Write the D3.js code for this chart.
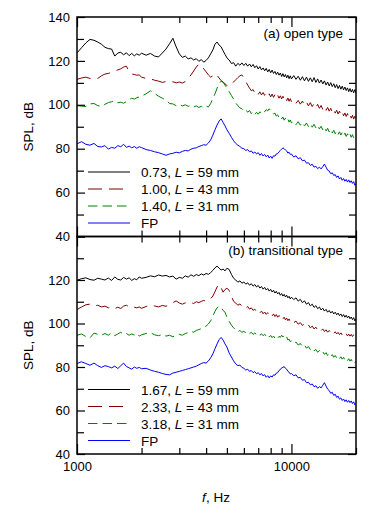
<!DOCTYPE html>
<html><head><meta charset="utf-8">
<script src="https://cdn.jsdelivr.net/npm/d3@7"></script>
<style>
body{margin:0;background:#fff}
svg{display:block}
text{font-family:"Liberation Sans",Arial,sans-serif;fill:#000}
</style>
</head><body>
<svg id="c" width="376" height="514"></svg>
<script>
// ---- data ----
const freqs = [1000,1050,1100,1150,1200,1250,1300,1350,1400,1450,1500,1550,1600,1650,1700,1750,1800,1850,1900,1950,2000,
2100,2200,2300,2400,2500,2600,2700,2800,2900,3000,3100,3200,3300,3400,3500,3600,3700,3800,3900,4000,4100,4200,4300,4400,4500,4600,4700,4800,4900,5000,
5125,5250,5375,5500,5625,5750,5875,6000,6125,6250,6375,6500,6625,6750,6875,7000,7125,7250,7375,7500,7625,7750,7875,8000,8125,8250,8375,8500,8625,8750,8875,9000,9125,9250,9375,9500,9625,9750,9875,10000,
10250,10500,10750,11000,11250,11500,11750,12000,12250,12500,12750,13000,13250,13500,13750,14000,14250,14500,14750,15000,15250,15500,15750,16000,16250,16500,16750,17000,17250,17500,17750,18000,18250,18500,18750,19000,19250,19500,19750,20000];

// (a) open type
const open073 = [123.6,126.0,128.2,129.8,129.4,128.6,127.6,126.2,125.6,125.4,122.2,123.6,123.9,122.8,123.7,122.4,123.4,122.3,123.2,122.6,123.5,
122.6,123.4,122.2,121.8,123.6,125.4,127.8,130.3,126.4,123.2,121.6,122.2,120.9,121.4,120.4,121.0,119.8,120.6,119.4,120.2,121.4,123.2,125.0,127.6,128.6,127.2,126.4,124.6,123.0,121.4,
120.4,118.8,119.2,117.6,118.9,118.0,119.1,117.9,118.9,117.6,118.6,117.3,118.4,116.9,117.8,116.3,117.4,115.9,116.8,115.5,116.6,115.0,116.1,114.6,115.8,114.3,115.2,113.8,114.9,113.5,114.5,112.9,114.2,112.7,113.8,112.3,113.5,111.9,113.2,111.8,
113.3,111.6,113.0,111.2,112.8,110.9,112.6,110.7,112.3,110.5,112.4,110.2,111.8,109.9,111.3,109.5,110.9,109.0,110.4,108.6,110.1,108.3,109.6,107.8,109.2,107.4,108.8,107.1,108.5,106.8,108.1,106.5,107.7,106.0,107.4,105.8,107.0,105.5,106.9,105.3];
const open100 = [111.6,112.2,112.6,112.0,112.3,112.0,113.2,114.0,114.3,114.8,115.3,115.9,116.4,117.2,117.6,115.2,114.0,113.8,113.5,113.6,112.6,
112.0,111.8,111.2,110.8,110.2,110.6,110.2,110.5,110.0,110.4,109.9,110.6,112.0,113.6,115.4,117.2,118.6,117.8,116.4,115.0,113.6,112.6,113.2,112.4,113.4,112.2,111.0,110.4,109.6,108.8,
108.4,109.6,110.4,111.4,112.4,113.2,113.6,112.2,110.6,109.0,107.6,106.4,106.9,105.4,106.2,104.8,105.9,104.5,105.6,104.3,105.4,104.0,105.0,103.6,104.9,103.4,104.6,103.1,104.4,103.0,104.1,102.7,103.9,102.3,103.4,101.9,103.1,101.6,102.8,101.4,
102.4,100.7,102.0,100.3,101.7,99.9,101.3,99.5,101.0,99.2,100.6,98.8,100.2,98.4,99.7,97.9,99.3,97.5,98.8,97.1,98.4,96.6,97.9,96.2,97.5,95.8,97.1,95.4,96.7,95.0,96.3,94.7,96.0,94.3,95.6,93.9,95.2,93.5,94.8,93.2];
const open140 = [99.6,99.4,99.2,100.4,100.6,99.6,99.3,100.2,101.0,101.4,101.8,100.9,101.2,100.7,101.5,102.4,103.0,102.6,103.2,103.6,104.0,
105.0,106.4,105.2,103.9,103.0,102.1,100.6,100.4,99.6,100.2,99.5,100.0,99.3,99.8,99.0,99.5,98.8,99.3,98.7,99.4,99.0,100.6,102.8,105.0,107.6,109.6,110.8,110.2,109.0,107.4,
106.0,104.2,102.6,100.8,99.6,98.6,98.2,97.3,97.9,96.6,97.4,96.0,96.9,95.6,96.6,95.7,96.8,96.2,97.4,96.8,97.8,97.2,98.2,97.4,97.0,95.8,96.2,94.9,95.4,94.2,94.9,93.6,94.4,93.0,93.9,92.6,93.5,92.1,93.1,91.8,
92.5,91.0,92.3,90.7,92.0,90.4,91.7,90.1,91.4,89.8,91.1,89.5,90.7,89.0,90.2,88.6,89.8,88.1,89.3,87.6,88.8,87.2,88.4,86.8,88.0,86.5,87.7,86.2,87.4,85.9,87.1,85.6,86.8,85.4,86.6,85.2,86.4,85.0,86.2,85.3];
const openFP = [82.2,83.2,82.0,81.6,82.4,81.0,80.8,81.4,79.8,80.6,80.2,81.4,80.9,82.0,80.6,81.2,80.4,81.0,80.2,80.9,80.5,
79.6,79.2,78.6,78.2,77.6,77.0,77.6,77.9,78.4,78.1,78.8,79.2,79.0,79.8,80.2,80.4,81.0,81.4,81.8,81.6,82.6,84.0,86.2,88.6,90.8,92.6,93.6,92.0,90.4,88.6,
87.0,85.2,83.6,82.4,81.6,81.0,80.2,80.0,79.2,79.6,78.6,79.0,77.9,78.5,77.6,78.2,77.0,77.8,76.7,77.4,76.3,77.1,75.8,76.6,75.6,76.8,76.6,77.6,77.8,78.6,79.2,79.8,80.4,80.0,79.4,79.0,78.0,78.4,77.4,77.6,
76.2,76.8,75.4,75.9,74.5,74.8,73.4,73.6,72.4,72.9,71.6,72.0,70.9,71.6,70.8,71.8,73.0,71.6,70.2,69.8,68.6,69.0,67.8,68.2,66.9,67.6,66.2,66.9,65.6,66.4,65.2,66.0,64.8,65.8,64.6,65.4,64.2,65.0,63.4,64.0];

// (b) transitional type
const trans167 = [119.9,120.6,121.0,120.2,119.9,120.8,120.4,120.0,120.9,119.8,121.4,120.3,120.0,121.2,120.4,121.0,119.8,120.6,120.1,121.4,120.8,
121.2,121.9,121.5,122.3,121.8,122.1,121.4,121.8,120.4,121.2,120.8,121.9,121.3,122.4,121.7,122.5,122.0,122.8,122.3,123.0,122.6,123.4,124.4,125.6,126.4,125.4,124.6,125.0,124.2,125.4,
124.8,122.6,120.8,120.0,119.0,119.6,118.5,119.1,118.1,118.7,117.6,118.3,117.2,117.9,116.8,117.5,116.3,117.0,115.8,116.6,115.4,116.1,114.9,115.7,114.5,115.3,114.0,114.8,113.6,114.3,113.0,113.8,112.6,113.4,112.2,113.0,111.8,112.5,111.3,112.1,
111.0,111.8,110.3,111.1,109.6,110.4,108.9,109.6,108.1,108.9,107.4,108.2,106.8,107.6,106.2,107.0,105.7,106.5,105.2,106.0,104.8,105.6,104.4,105.2,104.0,104.8,103.6,104.4,103.2,104.1,102.9,103.8,102.6,103.4,102.2,103.0,101.8,102.7,101.2,102.2];
const trans233 = [106.4,107.6,108.6,108.9,108.0,108.4,107.6,108.0,107.2,107.6,106.8,107.5,106.9,108.0,108.4,107.6,108.0,107.5,107.2,107.6,107.0,
107.8,108.6,108.1,107.6,108.3,107.9,108.8,109.6,110.4,109.4,108.9,109.5,109.0,109.6,109.2,110.0,109.6,110.2,110.6,110.2,111.0,111.4,112.6,114.6,116.8,118.0,116.4,114.4,115.6,116.2,
115.2,112.4,110.2,109.4,108.4,109.0,107.9,108.3,107.2,107.8,106.6,107.2,106.0,106.6,105.4,106.2,104.9,105.7,104.5,105.3,104.2,105.0,103.8,104.6,103.5,104.4,103.2,104.1,102.9,103.7,102.5,103.3,102.1,102.9,101.7,102.5,101.3,102.1,100.8,101.6,
100.4,101.1,99.7,100.4,99.1,99.8,98.5,99.3,98.0,98.8,97.5,98.3,97.1,97.9,96.7,97.5,96.3,97.1,96.0,96.8,95.7,96.5,95.4,96.2,95.2,95.9,94.9,95.7,94.7,95.5,94.5,95.3,94.3,95.1,94.2,95.0,94.0,94.8,93.8,94.5];
const trans318 = [94.6,95.2,94.0,93.4,95.6,95.0,94.6,95.4,94.6,95.8,94.4,95.2,96.0,94.8,95.4,94.6,95.2,94.7,95.4,94.2,94.8,
95.4,95.8,94.8,94.4,95.0,94.2,94.6,93.9,94.6,95.0,94.6,95.4,95.8,96.4,96.0,96.8,97.2,97.6,98.2,98.8,99.8,101.2,103.4,105.6,107.2,107.9,107.4,106.0,105.2,103.0,
101.0,99.2,98.0,97.0,96.2,96.8,95.9,96.5,95.6,96.2,95.3,96.0,95.0,95.7,94.8,95.5,94.6,95.3,94.4,95.1,94.1,94.8,93.8,94.5,93.5,94.2,93.3,94.0,93.2,94.1,93.6,94.6,93.8,94.6,93.4,93.8,92.4,92.8,91.6,92.0,
90.8,91.5,90.1,90.8,89.4,90.1,88.7,89.4,88.0,88.8,87.4,88.1,86.8,87.6,86.3,87.0,85.8,86.6,85.3,86.1,84.9,85.7,84.5,85.3,84.2,85.0,83.9,84.7,83.6,84.4,83.3,84.1,83.0,83.8,82.7,83.5,82.4,83.2,82.1,82.8];
const transFP = [81.6,82.4,81.6,80.8,81.8,80.6,79.8,80.6,80.2,79.6,80.4,79.3,80.6,81.8,80.2,79.6,79.0,80.0,79.4,79.8,79.2,
79.4,78.6,78.0,77.6,77.0,76.6,76.4,77.2,77.6,78.0,78.4,78.8,79.2,79.6,80.0,80.4,81.0,81.6,82.0,81.8,82.8,84.2,86.0,88.4,90.6,92.6,93.6,92.4,90.6,89.2,
86.4,84.6,82.8,81.4,80.6,80.9,79.8,79.4,78.6,79.0,78.0,78.4,77.4,77.9,76.9,77.4,76.4,77.0,75.9,76.5,75.3,76.0,75.0,75.9,75.4,76.4,76.2,77.2,77.4,78.4,78.8,79.6,79.8,80.2,79.4,79.0,78.0,77.6,76.8,77.0,
76.0,76.4,75.0,75.2,73.9,74.2,72.8,73.0,71.8,72.2,70.9,71.4,70.2,71.0,70.4,71.6,72.8,71.2,69.8,69.2,67.9,68.4,66.9,67.5,66.0,66.6,65.2,65.8,64.6,65.3,64.1,64.9,63.8,64.6,63.6,64.4,63.2,64.0,62.6,63.2];

const xTickLabels = [1000, 10000];
const xMinorTicks = [2000,3000,4000,5000,6000,7000,8000,9000,20000];
const yLabelTicks = [40,60,80,100,120,140];
const yMinorTicks = [50,70,90,110,130];
const panelA = {label:"(a) open type", series:[open073,open100,open140,openFP], legend:["0.73","1.00","1.40","FP"], L:[59,43,31,null]};
const panelB = {label:"(b) transitional type", series:[trans167,trans233,trans318,transFP], legend:["1.67","2.33","3.18","FP"], L:[59,43,31,null]};

// ---- drawing ----
const colors = ["#000000","#800000","#008000","#0000ff"];
const dashes = [null,"14,7","9.5,5",null];
const svg = d3.select("#c");
const X0 = 77, X1 = 356;
const x = d3.scaleLog().domain([1000,20000]).range([X0,X1]);
const panels = [
  {p:panelA, y:d3.scaleLinear().domain([40,140]).range([236.5,17]), legendY:172, labelY:38, showTop:true},
  {p:panelB, y:d3.scaleLinear().domain([40,140]).range([454,236.5]), legendY:389.5, labelY:255, showTop:false}
];

panels.forEach((P,pi)=>{
  const y = P.y;
  const [yb, yt] = y.range();
  const g = svg.append("g");
  const cid = "clip"+pi;
  svg.append("clipPath").attr("id",cid).append("rect")
    .attr("x",X0).attr("y",yt).attr("width",X1-X0).attr("height",yb-yt);

  // curves
  const line = d3.line().x(d=>x(d[0])).y(d=>y(d[1]));
  P.p.series.forEach((vals,si)=>{
    const data = freqs.map((f,i)=>[f,vals[i]]).filter(d=>d[1]!=null);
    const path = g.append("path").datum(data)
      .attr("clip-path",`url(#${cid})`)
      .attr("fill","none").attr("stroke",colors[si]).attr("stroke-width",1)
      .attr("d",line);
    if(dashes[si]) path.attr("stroke-dasharray",dashes[si]);
  });

  // y axes (inward ticks)
  const fmt = d=>String(d);
  const labTicks = pi===1 ? yLabelTicks.filter(v=>v!==140) : yLabelTicks;
  const left = g.append("g").attr("transform",`translate(${X0},0)`)
    .call(d3.axisLeft(y).tickValues(yLabelTicks).tickSize(-8).tickPadding(7).tickFormat(d=>labTicks.includes(d)?fmt(d):""));
  g.append("g").attr("transform",`translate(${X0},0)`)
    .call(d3.axisLeft(y).tickValues(yMinorTicks).tickSize(-7).tickFormat(""));
  g.append("g").attr("transform",`translate(${X1},0)`)
    .call(d3.axisRight(y).tickValues(yLabelTicks).tickSize(-8).tickFormat(""));
  g.append("g").attr("transform",`translate(${X1},0)`)
    .call(d3.axisRight(y).tickValues(yMinorTicks).tickSize(-7).tickFormat(""));

  // x ticks top/bottom (inward)
  const bottom = g.append("g").attr("transform",`translate(0,${yb})`);
  bottom.call(d3.axisBottom(x).tickValues(xMinorTicks).tickSize(-6).tickFormat(""));
  g.append("g").attr("transform",`translate(0,${yb})`)
    .call(d3.axisBottom(x).tickValues(xTickLabels).tickSize(-10).tickPadding(8)
      .tickFormat(d=> pi===1 ? String(d) : ""));
  g.append("g").attr("transform",`translate(0,${yt})`)
    .call(d3.axisTop(x).tickValues(xMinorTicks).tickSize(-6).tickFormat(""));
  g.append("g").attr("transform",`translate(0,${yt})`)
    .call(d3.axisTop(x).tickValues(xTickLabels).tickSize(-10).tickFormat(""));

  g.selectAll(".domain").remove();
  g.selectAll(".tick line").attr("stroke","#000").attr("stroke-width",1.2);
  g.selectAll(".tick text").attr("font-size",13).attr("fill","#000")
    .style("font-family",'"Liberation Sans",Arial,sans-serif');

  // frame
  g.append("rect").attr("x",X0).attr("y",yt).attr("width",X1-X0).attr("height",yb-yt)
    .attr("fill","none").attr("stroke","#000").attr("stroke-width",1.5);

  // panel label
  g.append("text").attr("x",343).attr("y",P.labelY).attr("text-anchor","end")
    .attr("font-size",13.5).text(P.p.label);

  // y axis title
  g.append("text").attr("transform",`translate(33,${(yt+yb)/2}) rotate(-90)`)
    .attr("text-anchor","middle").attr("font-size",13.5).text("SPL, dB");

  // legend
  P.p.legend.forEach((lab,i)=>{
    const ly = P.legendY + i*17;
    const ln = g.append("line").attr("x1",88).attr("x2",130).attr("y1",ly).attr("y2",ly)
      .attr("stroke",colors[i]).attr("stroke-width",1);
    if(dashes[i]) ln.attr("stroke-dasharray",dashes[i]);
    const t = g.append("text").attr("x",141).attr("y",ly+5).attr("font-size",13.5);
    if(P.p.L[i]!=null){
      t.append("tspan").text(lab+", ");
      t.append("tspan").attr("font-style","italic").text("L");
      t.append("tspan").text(" = "+P.p.L[i]+" mm");
    } else {
      t.text(lab);
    }
  });
});

// x axis title
const xt = svg.append("text").attr("x",216).attr("y",502).attr("text-anchor","middle").attr("font-size",13.5);
xt.append("tspan").attr("font-style","italic").text("f");
xt.append("tspan").text(", Hz");
</script>
</body></html>
